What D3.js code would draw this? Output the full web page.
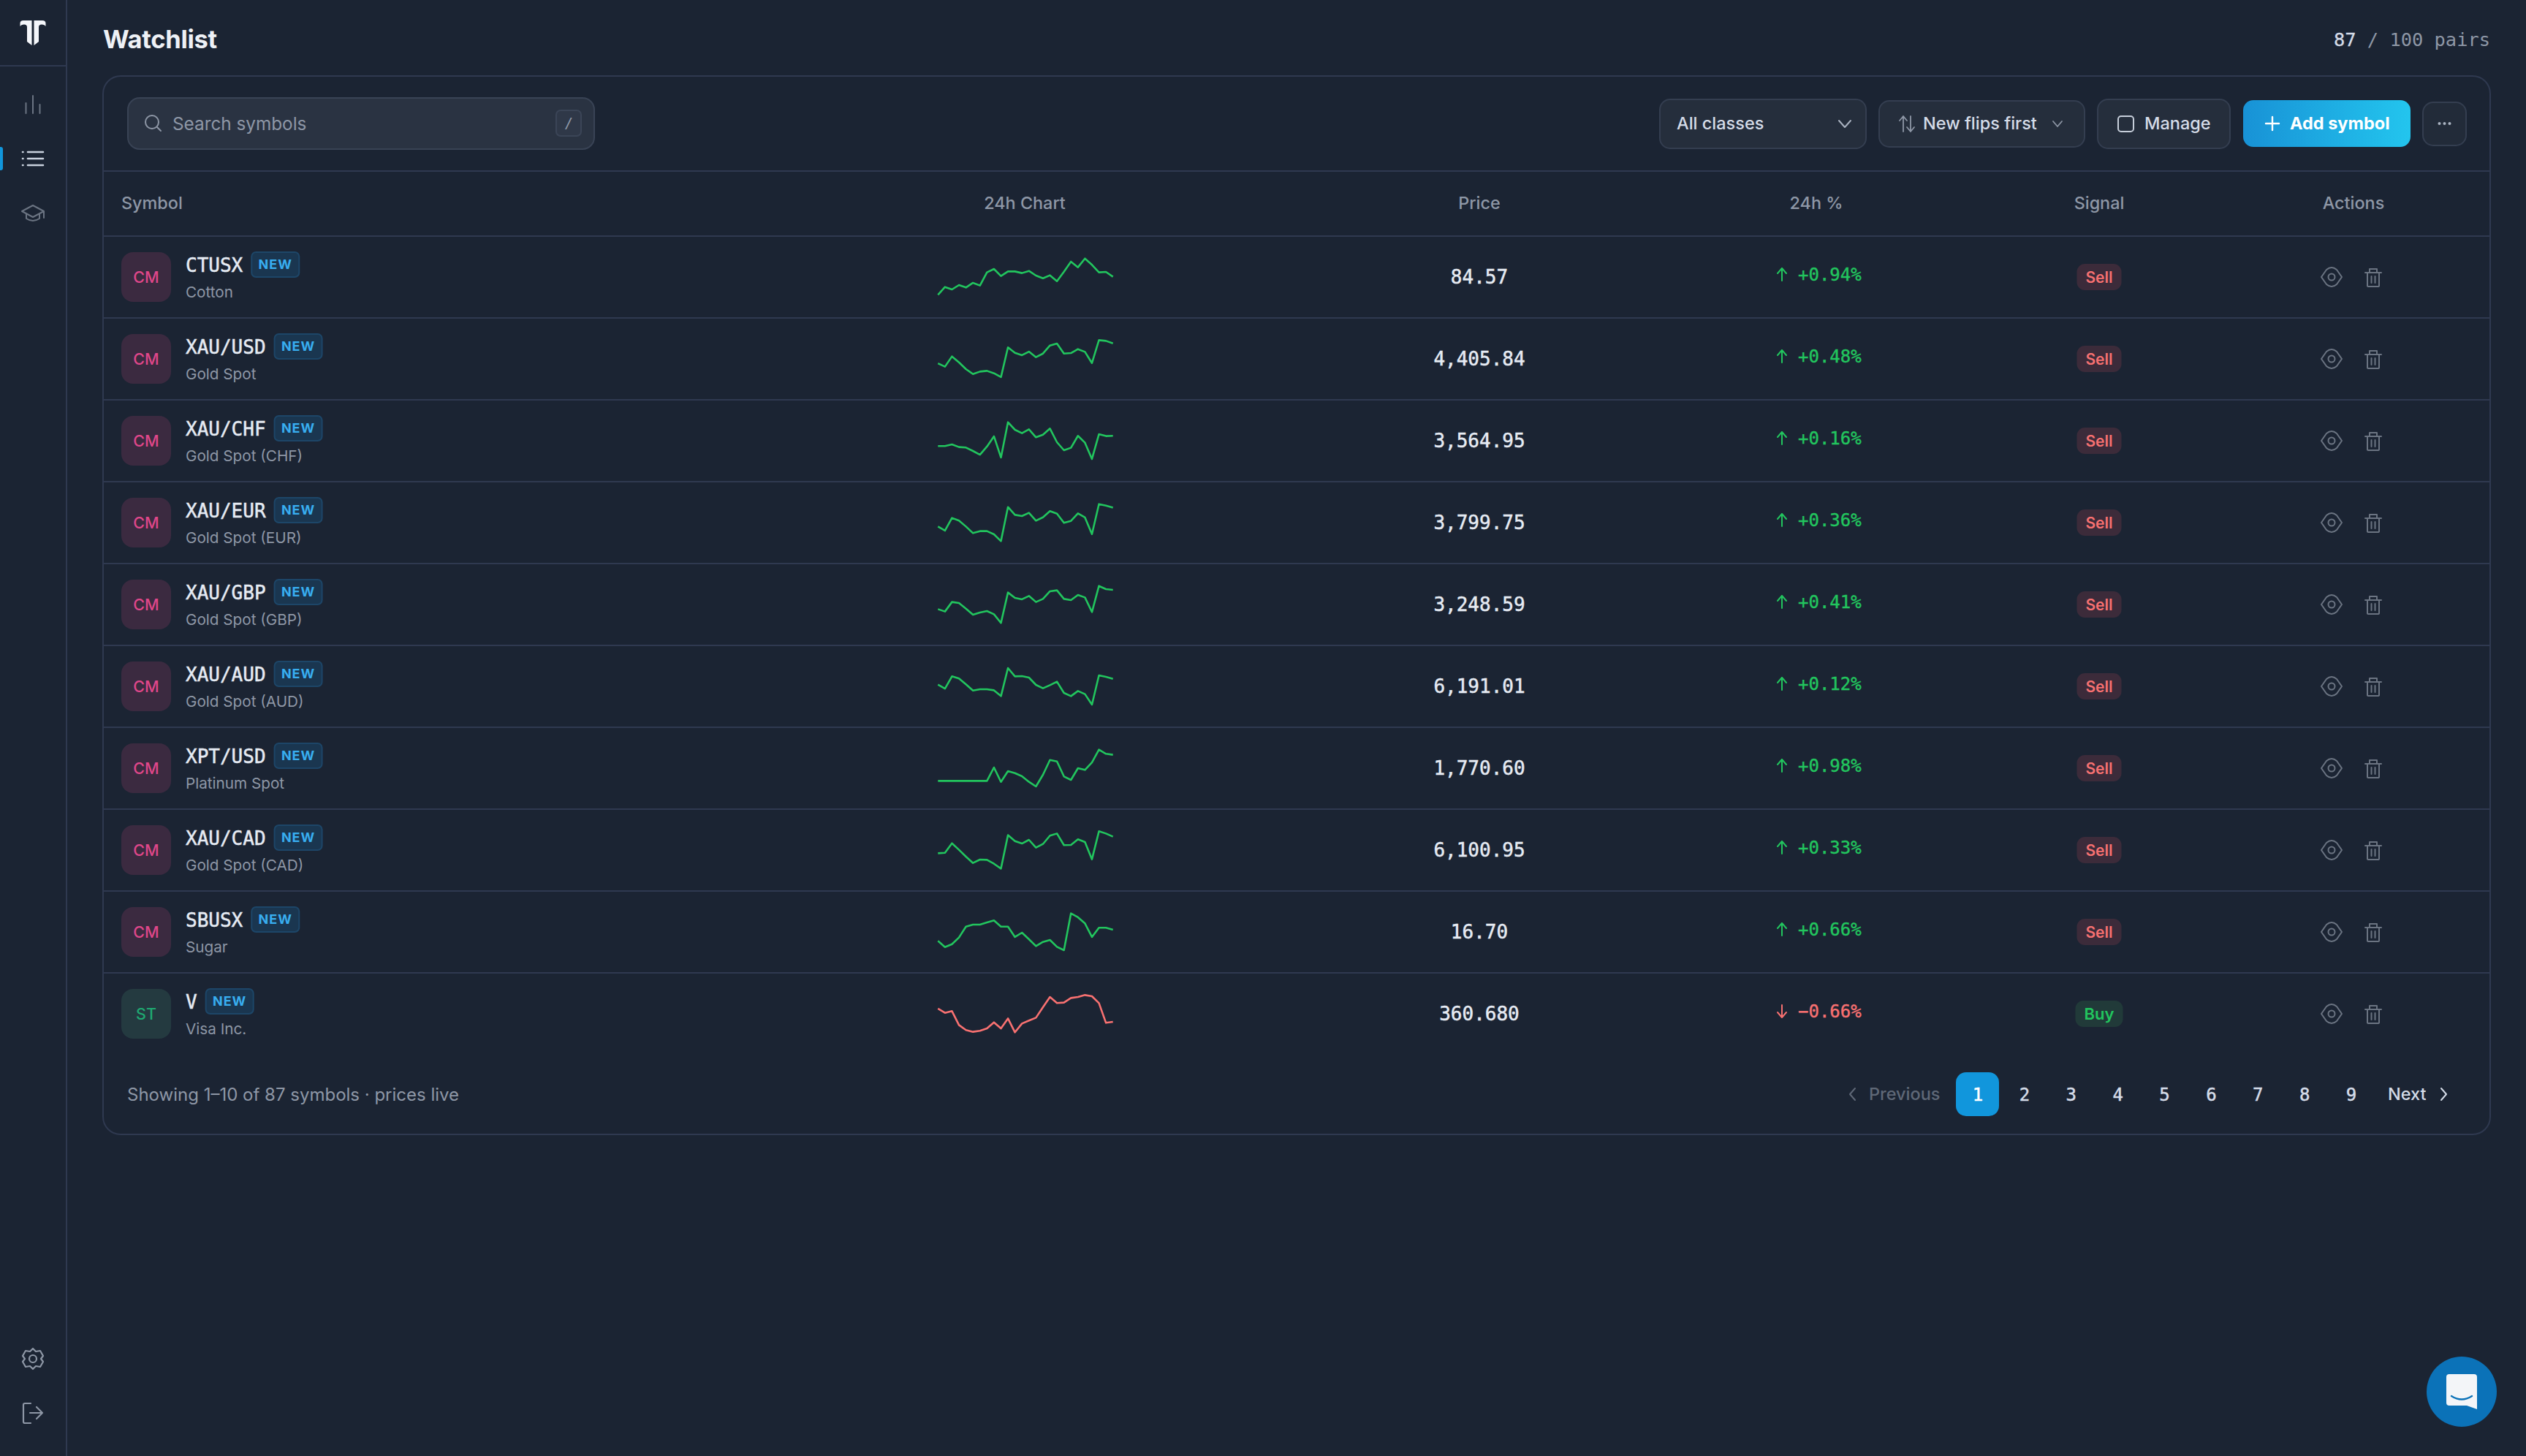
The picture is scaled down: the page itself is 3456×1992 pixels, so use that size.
<!DOCTYPE html>
<html>
<head>
<meta charset="utf-8">
<title>Watchlist</title>
<script src="https://cdn.jsdelivr.net/npm/d3@7"></script>
<style>
  html, body { margin: 0; background: #1b2433; }
  svg { display: block; }
</style>
</head>
<body>
<svg id="page"></svg>
<script>
const symbols = ["CTUSX", "XAU/USD", "XAU/CHF", "XAU/EUR", "XAU/GBP", "XAU/AUD", "XPT/USD", "XAU/CAD", "SBUSX", "V"];
const names = ["Cotton", "Gold Spot", "Gold Spot (CHF)", "Gold Spot (EUR)", "Gold Spot (GBP)", "Gold Spot (AUD)", "Platinum Spot", "Gold Spot (CAD)", "Sugar", "Visa Inc."];
const classes = ["CM", "CM", "CM", "CM", "CM", "CM", "CM", "CM", "CM", "ST"];
const prices = ["84.57", "4,405.84", "3,564.95", "3,799.75", "3,248.59", "6,191.01", "1,770.60", "6,100.95", "16.70", "360.680"];
const changes = [0.94, 0.48, 0.16, 0.36, 0.41, 0.12, 0.98, 0.33, 0.66, -0.66];
const signals = ["Sell", "Sell", "Sell", "Sell", "Sell", "Sell", "Sell", "Sell", "Sell", "Buy"];
const columns = ["24h Chart", "Price", "24h %", "Signal", "Actions"];
const pages = ["1", "2", "3", "4", "5", "6", "7", "8", "9"];

// sparkline levels, 26 samples each
const sparks = [
  [28.3, 37.8, 34.8, 40.2, 37.2, 42.9, 39.6, 55.7, 59.8, 51.2, 56.8, 56.8, 54.8, 57.4, 51.8, 48.5, 52.1, 44.9, 56.5, 68.8, 61.9, 72.6, 64.9, 55.7, 56.3, 50.3],
  [44.6, 40.5, 53.0, 45.8, 37.5, 31.5, 34.5, 35.4, 32.4, 27.7, 64.0, 57.4, 54.5, 58.9, 52.1, 56.5, 66.4, 68.8, 56.5, 57.1, 61.9, 58.6, 44.9, 72.9, 72.0, 69.0],
  [43.5, 43.5, 45.5, 42.3, 41.7, 37.5, 33.0, 42.9, 55.4, 29.5, 72.6, 63.4, 59.2, 64.0, 54.2, 57.4, 64.9, 48.2, 38.4, 41.4, 56.0, 47.6, 27.7, 58.0, 55.7, 56.0],
  [45.2, 40.2, 55.7, 52.4, 45.2, 37.2, 39.6, 39.6, 35.7, 27.4, 69.0, 59.5, 58.0, 61.9, 52.4, 56.5, 64.0, 61.0, 49.7, 52.1, 61.3, 56.3, 36.0, 72.6, 70.8, 68.2],
  [44.3, 41.4, 53.0, 51.8, 44.9, 37.5, 40.2, 42.0, 38.1, 27.4, 64.6, 58.0, 56.3, 60.4, 53.0, 56.8, 66.1, 67.3, 56.8, 55.4, 61.6, 58.6, 40.8, 72.6, 68.8, 67.9],
  [52.1, 47.3, 62.2, 59.5, 52.4, 44.9, 46.4, 46.4, 45.2, 38.1, 72.3, 62.2, 62.5, 60.7, 51.8, 47.6, 51.5, 55.7, 42.0, 38.1, 44.3, 40.5, 27.7, 63.4, 61.6, 59.2],
  [34.5, 34.5, 34.5, 34.5, 34.5, 34.5, 34.5, 34.5, 50.9, 33.3, 46.4, 44.0, 40.2, 33.3, 27.7, 42.0, 60.1, 58.3, 39.9, 35.7, 50.0, 47.9, 57.1, 72.6, 67.6, 66.4],
  [46.1, 46.7, 58.3, 50.3, 42.0, 34.2, 38.4, 38.1, 33.3, 27.4, 68.2, 61.0, 58.0, 62.5, 53.0, 57.4, 67.6, 70.2, 56.0, 56.3, 63.1, 59.8, 38.7, 72.9, 70.2, 66.4],
  [39.0, 31.5, 35.1, 43.2, 56.5, 58.9, 58.9, 61.6, 64.0, 56.5, 56.5, 43.8, 49.1, 41.1, 32.7, 37.8, 40.2, 31.8, 27.7, 72.6, 67.9, 60.4, 43.8, 55.1, 55.1, 52.7],
  [56.3, 51.2, 53.3, 36.3, 30.1, 28.0, 29.2, 32.1, 39.6, 32.1, 44.3, 27.4, 38.1, 41.7, 45.2, 58.0, 70.5, 63.1, 63.7, 69.3, 70.5, 72.9, 71.4, 63.1, 39.0, 40.2]
];

const WIDTH = 3456;
const HEIGHT = 1992;
const ROW_HEIGHT = 112;
const SANS = "Inter, 'Noto Sans', sans-serif";
const MONO = "'DejaVu Sans Mono', monospace";

const BG = "#1b2433";
const LINE = "#2f3950";
const MUTED = "#8e97a6";
const LIGHT = "#d5dce8";
const BRIGHT = "#e6ebf3";
const GREEN = "#22c55e";
const RED = "#f87171";
const BLUE = "#1196dc";
const ICON = "#6b7482";

const svg = d3.select("#page").attr("width", WIDTH).attr("height", HEIGHT).style("background", BG);

const defs = svg.append("defs");
const grad = defs.append("linearGradient").attr("id", "addGrad");
grad.append("stop").attr("offset", "0%").attr("stop-color", "#1892d6");
grad.append("stop").attr("offset", "100%").attr("stop-color", "#23c5ee");

const label = (g, str, x, y, o = {}) =>
  g
    .append("text")
    .attr("x", x)
    .attr("y", y)
    .attr("dy", ".36em")
    .attr("text-anchor", o.anchor || "start")
    .attr("font-family", o.font || SANS)
    .attr("font-size", o.size || 23.5)
    .attr("font-weight", o.weight || 400)
    .attr("letter-spacing", o.spacing || 0)
    .attr("fill", o.fill || LIGHT)
    .attr("stroke", o.heavy ? o.fill || LIGHT : "none")
    .attr("stroke-width", o.heavy || 0)
    .text(str);

const box = (g, x0, y0, x1, y1, r, fill, stroke) =>
  g
    .append("rect")
    .attr("x", x0)
    .attr("y", y0)
    .attr("width", x1 - x0)
    .attr("height", y1 - y0)
    .attr("rx", r)
    .attr("fill", fill)
    .attr("stroke", stroke || "none")
    .attr("stroke-width", stroke ? 2 : 0);

const icon = (g, d, color, w = 2) =>
  g
    .append("path")
    .attr("d", d)
    .attr("fill", "none")
    .attr("stroke", color)
    .attr("stroke-width", w)
    .attr("stroke-linecap", "round")
    .attr("stroke-linejoin", "round");

const rule = (g, x0, x1, y) =>
  g.append("line").attr("x1", x0).attr("x2", x1).attr("y1", y).attr("y2", y).attr("stroke", LINE).attr("stroke-width", 2);

// sidebar
const side = svg.append("g");
side.append("line").attr("x1", 91).attr("x2", 91).attr("y1", 0).attr("y2", HEIGHT).attr("stroke", LINE).attr("stroke-width", 2);
rule(side, 0, 91, 90);
side
  .append("path")
  .attr("d", "M27.5 36V32Q27.5 28 32 28H43.5V62L37 57V37Q37 33.5 33 33.5Q29 33.5 27.5 36ZM62.5 36V32Q62.5 28 58 28H46.5V62L53 57V37Q53 33.5 57 33.5Q61 33.5 62.5 36Z")
  .attr("fill", "#f4f6fa");
icon(side, "M35.5 155V141M45 155V131M54.5 155V143", ICON, 2);
side.append("path").attr("d", "M0 201H1Q4 201 4 204V230Q4 233 1 233H0Z").attr("fill", BLUE);
icon(side, "M31 208H31.5M31 217H31.5M31 226H31.5M38 208H59M38 217H59M38 226H59", "#c9d1de", 2.6);
icon(side, "M45 281L60 289L45 297L30 289ZM36 293V299Q45 305 54 299V293M60 289V298", ICON, 2);
icon(side, "M45 1845L49 1849L55 1848L59 1855L56 1859L59 1863L55 1870L49 1869L45 1873L41 1869L35 1870L31 1863L34 1859L31 1855L35 1848L41 1849Z", MUTED, 2.2);
side.append("circle").attr("cx", 45).attr("cy", 1859).attr("r", 5).attr("fill", "none").attr("stroke", MUTED).attr("stroke-width", 2.2);
icon(side, "M42 1920H34Q32 1920 32 1922V1945Q32 1947 34 1947H42M41 1933H58M50 1925L58 1933L50 1941", MUTED, 2.2);

// page title
label(svg, "Watchlist", 141, 54, { size: 34.5, weight: 700, fill: "#eef1f6", spacing: -0.3 });
const pairs = label(svg, "87", 3407, 54, { font: MONO, size: 25.4, anchor: "end", fill: LIGHT, heavy: 0.3 });
pairs.append("tspan").attr("fill", MUTED).attr("stroke", "none").text(" / 100 pairs");

// card
box(svg, 141, 104, 3407, 1552, 24, "none", LINE);
rule(svg, 141, 3407, 234);
rule(svg, 141, 3407, 323);

// toolbar
const bar = svg.append("g");
box(bar, 175, 134, 813, 204, 16, "#2a3342", "#394355");
bar.append("circle").attr("cx", 208).attr("cy", 167).attr("r", 9).attr("fill", "none").attr("stroke", MUTED).attr("stroke-width", 2);
icon(bar, "M215 174L220 179", MUTED, 2);
label(bar, "Search symbols", 236, 169, { size: 24.3, fill: MUTED });
box(bar, 761, 151, 795, 186, 6, "#2f3848", "#3b4557");
label(bar, "/", 778, 168, { font: MONO, size: 20, anchor: "middle", fill: MUTED });

box(bar, 2271, 136, 2553, 203, 14, "#252e3c", "#343e50");
label(bar, "All classes", 2294, 169, { weight: 500 });
icon(bar, "M2516 165L2524 174L2532 165", "#aab3c1", 2);

box(bar, 2571, 138, 2852, 201, 14, "#252e3c", "#343e50");
icon(bar, "M2604 180V159M2599 165L2604 159L2609 165M2614 159V180M2609 174L2614 180L2619 174", "#8e97a6", 1.8);
label(bar, "New flips first", 2631, 169, { weight: 500 });
icon(bar, "M2809 166L2815 173L2821 166", "#8e97a6", 1.8);

box(bar, 2870, 136, 3051, 203, 14, "#252e3c", "#343e50");
box(bar, 2898, 159, 2919, 180, 4, "none", "#c7cfdb");
label(bar, "Manage", 2934, 169, { weight: 500 });

box(bar, 3069, 137, 3298, 201, 14, "url(#addGrad)");
icon(bar, "M3109 160V178M3100 169H3118", "#ffffff", 2.4);
label(bar, "Add symbol", 3133, 169, { weight: 700, fill: "#ffffff" });

box(bar, 3315, 140, 3374, 199, 14, "#222b39", "#343e50");
bar
  .selectAll(".dot")
  .data([-7, 0, 7])
  .join("circle")
  .attr("cx", d => 3344.5 + d)
  .attr("cy", 169)
  .attr("r", 2)
  .attr("fill", "#aab3c1");

// table header
const colX = d3.scaleOrdinal().domain(columns).range([1402, 2024, 2485, 2872, 3220]);
const HEADER_Y = 278;
label(svg, "Symbol", 166, HEADER_Y, { size: 23.4, weight: 500, fill: MUTED });
svg
  .append("g")
  .selectAll("text")
  .data(columns)
  .join("text")
  .attr("x", d => colX(d))
  .attr("y", HEADER_Y)
  .attr("dy", ".36em")
  .attr("text-anchor", "middle")
  .attr("font-family", SANS)
  .attr("font-size", 23.4)
  .attr("font-weight", 500)
  .attr("fill", MUTED)
  .text(d => d);

// rows
const rowY = d3.scaleLinear().domain([0, symbols.length]).range([323, 323 + ROW_HEIGHT * symbols.length]);
const sparkX = d3.scaleLinear().domain([0, 25]).range([1283.3, 1522.7]);
const sparkY = d3.scaleLinear().domain([0, 100]).range([ROW_HEIGHT, 0]);
const sparkLine = d3
  .line()
  .x((d, i) => sparkX(i))
  .y(d => sparkY(d));

const rows = svg
  .append("g")
  .selectAll(".row")
  .data(symbols)
  .join("g")
  .attr("class", "row")
  .attr("transform", (d, i) => `translate(0, ${rowY(i)})`);

rows.each(function(sym, i) {
  const g = d3.select(this);
  const mid = ROW_HEIGHT / 2;
  const up = changes[i] >= 0;

  if (i > 0) rule(g, 141, 3407, 0);

  // class avatar
  const stock = classes[i] === "ST";
  box(g, 166, 22, 234, 90, 16, stock ? "#243a40" : "#3b2a40");
  label(g, classes[i], 200, mid, { anchor: "middle", size: 21.5, weight: 500, fill: stock ? "#1fa971" : "#e0478a" });

  // symbol + new flag
  label(g, sym, 254, 39.5, { font: MONO, size: 26, fill: BRIGHT, heavy: 0.5 });
  const bx = 254 + sym.length * 15.65 + 12;
  box(g, bx, 22, bx + 65, 56, 6, "#1a3650", "#1d4668");
  label(g, "NEW", bx + 32.5, 39, { anchor: "middle", size: 18, weight: 700, fill: "#38aef0", spacing: 1 });
  label(g, names[i], 254, 77, { size: 20.7, fill: MUTED });

  g.append("path")
    .attr("d", sparkLine(sparks[i]))
    .attr("fill", "none")
    .attr("stroke", up ? GREEN : RED)
    .attr("stroke-width", 2.6)
    .attr("stroke-linejoin", "round");

  label(g, prices[i], 2024, 56, { font: MONO, size: 26, anchor: "middle", fill: BRIGHT, heavy: 0.5 });

  // 24h change
  const color = up ? GREEN : RED;
  const arrow = up ? "M2438 61V44M2432 51L2438 44L2444 51" : "M2438 44V61M2432 54L2438 61L2444 54";
  icon(g, arrow, color, 2);
  label(g, d3.format("+.2f")(changes[i]) + "%", 2460, 52, { font: MONO, size: 24, fill: color, heavy: 0.4 });

  // signal pill
  const buy = signals[i] === "Buy";
  const half = buy ? 32.5 : 30.5;
  box(g, 2872 - half, 38, 2872 + half, 74, 11, buy ? "#213a39" : "#3c2b3a");
  label(g, signals[i], 2872, mid, { anchor: "middle", size: buy ? 22 : 21, weight: 600, fill: buy ? GREEN : RED });

  // actions
  icon(g, "M3176 56L3183 46Q3190 40 3197 46L3204 56L3197 66Q3190 72 3183 66Z", ICON, 2);
  g.append("circle").attr("cx", 3190).attr("cy", 56).attr("r", 4.5).attr("fill", "none").attr("stroke", ICON).attr("stroke-width", 2);
  icon(g, "M3236 50H3258M3242 50V45H3252V50M3239 50V68Q3239 69 3241 69H3253Q3255 69 3255 68V50M3244.5 55V64M3249.5 55V64", ICON, 2);
});

// footer
const foot = svg.append("g");
const FOOT_Y = 1497;
label(foot, "Showing 1–10 of 87 symbols · prices live", 174, FOOT_Y, { size: 24, fill: MUTED });
icon(foot, "M2538 1489L2531 1497L2538 1505", "#5f6877", 2);
label(foot, "Previous", 2557, FOOT_Y, { weight: 500, fill: "#5f6877" });
box(foot, 2676, 1467, 2735, 1527, 14, BLUE);

const pageX = d3.scalePoint().domain(pages).range([2706, 3217]);
foot
  .selectAll(".pg")
  .data(pages)
  .join("text")
  .attr("class", "pg")
  .attr("x", d => pageX(d))
  .attr("y", FOOT_Y)
  .attr("dy", ".36em")
  .attr("text-anchor", "middle")
  .attr("font-family", MONO)
  .attr("font-size", 24)
  .attr("fill", d => (d === "1" ? "#ffffff" : LIGHT))
  .attr("stroke", d => (d === "1" ? "#ffffff" : LIGHT))
  .attr("stroke-width", 0.5)
  .text(d => d);
label(foot, "Next", 3267, FOOT_Y, { weight: 500 });
icon(foot, "M3340 1489L3347 1497L3340 1505", LIGHT, 2);

// chat bubble
const chat = svg.append("g");
chat.append("circle").attr("cx", 3368).attr("cy", 1904).attr("r", 48).attr("fill", "#0b72b8");
chat
  .append("path")
  .attr("d", "M3351 1880H3385Q3389 1880 3389 1884V1928L3375 1923H3351Q3347 1923 3347 1919V1884Q3347 1880 3351 1880Z")
  .attr("fill", "#f3f5f8");
icon(chat, "M3354 1910Q3368 1919 3382 1910", "#0b72b8", 2.4);
</script>
</body>
</html>
